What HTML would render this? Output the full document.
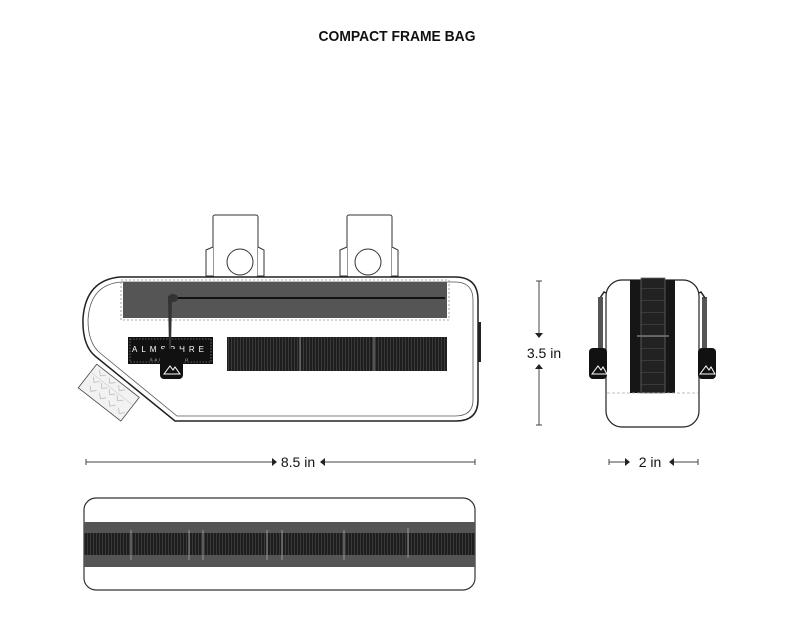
<!DOCTYPE html>
<html><head><meta charset="utf-8"><style>
html,body{margin:0;padding:0;background:#fff;}
svg{display:block;font-family:"Liberation Sans",sans-serif;}
</style></head><body>
<svg width="800" height="637" viewBox="0 0 800 637" xmlns="http://www.w3.org/2000/svg">
<defs>
<pattern id="web" width="3" height="10" patternUnits="userSpaceOnUse">
<rect width="3" height="10" fill="#1e1e1e"/><rect x="0" width="1" height="10" fill="#3a3a3a"/>
</pattern>
<pattern id="webh" width="10" height="12" patternUnits="userSpaceOnUse">
<rect width="10" height="12" fill="#222"/><rect y="0" width="10" height="1" fill="#3a3a3a"/>
</pattern>
</defs>
<text x="397" y="41" font-size="15" font-weight="bold" text-anchor="middle" textLength="157" lengthAdjust="spacingAndGlyphs" fill="#111">COMPACT FRAME BAG</text>

<g fill="#fff" stroke="#333" stroke-width="1">
<rect x="213" y="215" width="45" height="62" rx="2"/>
<path d="M213 247 L206 250 L206 276 L213 276 M258 247 L264 250 L264 276 L258 276"/>
<circle cx="240" cy="262" r="13"/>
<rect x="347" y="215" width="45" height="62" rx="2"/>
<path d="M347 247 L340 250 L340 276 L347 276 M392 247 L398 250 L398 276 L392 276"/>
<circle cx="368" cy="262" r="13"/>
</g>
<path d="M120 277 L455 277 Q478 277 478 300 L478 400 Q478 421 456 421 L175 421 L95 356 Q82 345 83 318 Q86 280 120 277 Z" fill="#fff" stroke="#222" stroke-width="1.5"/>
<path d="M122 282 L455 282 Q473 282 473 300 L473 400 Q473 416 455 416 L177 416 L100 353 Q88 343 88 320 Q90 284 122 282 Z" fill="none" stroke="#555" stroke-width="0.8"/>
<rect x="121" y="280" width="328" height="40" fill="none" stroke="#888" stroke-width="0.8" stroke-dasharray="2,2"/>
<rect x="123" y="282" width="324" height="36" fill="#555"/>
<line x1="170" y1="298" x2="445" y2="298" stroke="#111" stroke-width="2"/>
<rect x="478" y="322" width="3" height="40" fill="#222"/>
<rect x="128" y="337" width="85" height="27" fill="#111"/>
<rect x="130" y="339" width="81" height="23" fill="none" stroke="#aaa" stroke-width="0.6" stroke-dasharray="1.5,1.5"/>
<text x="170" y="352" font-size="8" fill="#fff" text-anchor="middle" letter-spacing="4">ALMSPHRE</text>
<text x="170" y="361" font-size="4" fill="#ccc" text-anchor="middle" letter-spacing="2">SAN DIEGO</text>
<path d="M168 296 L172 296 L171 350 L169 350 Z" fill="#333"/>
<ellipse cx="173" cy="298" rx="5" ry="4" fill="#333"/>
<rect x="160" y="349" width="23" height="30" rx="4" fill="#111"/>
<path d="M164 374 L170 366 L173 370 L175 367 L180 374 Z" fill="none" stroke="#fff" stroke-width="1"/>
<rect x="227" y="337" width="220" height="34" fill="url(#web)"/>
<line x1="300" y1="337" x2="300" y2="371" stroke="#888"/>
<line x1="374" y1="337" x2="374" y2="371" stroke="#888"/>
<g transform="rotate(38 108 392)">
<rect x="82" y="377" width="54" height="30" fill="#f2f2f2" stroke="#444" stroke-width="0.8"/>
<line x1="82" y1="387" x2="136" y2="387" stroke="#ccc" stroke-width="0.6"/>
<path d="M87 389 l4 4 l4-4 M97 389 l4 4 l4-4 M107 389 l4 4 l4-4 M117 389 l4 4 l4-4 M90 398 l4 4 l4-4 M102 398 l4 4 l4-4 M114 398 l4 4 l4-4 M126 398 l4 4 l4-4 M88 380 l4 4 l4-4 M100 380 l4 4 l4-4 M112 380 l4 4 l4-4" fill="none" stroke="#bbb" stroke-width="0.8"/>
</g>

<path d="M600 298 L604 292 L606 293" stroke="#222" stroke-width="1.5" fill="none"/>
<rect x="598" y="297" width="5" height="53" fill="#555"/>
<rect x="702" y="297" width="5" height="53" fill="#555"/>
<path d="M705 298 L701 292 L699 293" stroke="#222" stroke-width="1.5" fill="none"/>
<rect x="606" y="280" width="93" height="147" rx="16" fill="#fff" stroke="#222" stroke-width="1.2"/>
<rect x="630" y="280" width="45" height="113" fill="#161616"/>
<rect x="641" y="278" width="24" height="115" fill="url(#webh)" stroke="#666" stroke-width="0.8"/>
<line x1="637" y1="336" x2="669" y2="336" stroke="#777" stroke-width="1.5"/>
<line x1="607" y1="393" x2="698" y2="393" stroke="#aaa" stroke-width="0.8" stroke-dasharray="3,2"/>
<rect x="589" y="348" width="18" height="31" rx="4" fill="#111"/>
<path d="M592 374 L598 366 L601 370 L603 367 L607 374 Z" fill="none" stroke="#fff" stroke-width="1"/>
<rect x="698" y="348" width="18" height="31" rx="4" fill="#111"/>
<path d="M700 374 L706 366 L709 370 L711 367 L715 374 Z" fill="none" stroke="#fff" stroke-width="1"/>

<g stroke="#444" stroke-width="1" fill="#222">
<line x1="536" y1="281" x2="542" y2="281"/>
<line x1="539" y1="281" x2="539" y2="333"/>
<path d="M535 333 L543 333 L539 338 Z" stroke="none"/>
<line x1="539" y1="369" x2="539" y2="425"/>
<line x1="536" y1="425" x2="542" y2="425"/>
<path d="M535 369 L543 369 L539 364 Z" stroke="none"/>
<line x1="86" y1="459" x2="86" y2="465"/>
<line x1="86" y1="462" x2="272" y2="462"/>
<path d="M272 458 L272 466 L277 462 Z" stroke="none"/>
<line x1="325" y1="462" x2="475" y2="462"/>
<line x1="475" y1="459" x2="475" y2="465"/>
<path d="M325 458 L325 466 L320 462 Z" stroke="none"/>
<line x1="609" y1="459" x2="609" y2="465"/>
<line x1="609" y1="462" x2="625" y2="462"/>
<path d="M625 458 L625 466 L630 462 Z" stroke="none"/>
<line x1="674" y1="462" x2="698" y2="462"/>
<line x1="698" y1="459" x2="698" y2="465"/>
<path d="M674 458 L674 466 L669 462 Z" stroke="none"/>
</g>
<text x="544" y="358" font-size="14" fill="#111" text-anchor="middle">3.5 in</text>
<text x="298" y="467" font-size="14" fill="#111" text-anchor="middle">8.5 in</text>
<text x="650" y="467" font-size="14" fill="#111" text-anchor="middle">2 in</text>

<rect x="84" y="498" width="391" height="92" rx="12" fill="#fff" stroke="#333" stroke-width="1.2"/>
<rect x="84" y="522" width="391" height="45" fill="#555"/>
<rect x="84" y="533" width="391" height="22" fill="url(#web)"/>
<g stroke="#999" stroke-width="1">
<line x1="131" y1="530" x2="131" y2="560"/><line x1="189" y1="530" x2="189" y2="560"/>
<line x1="203" y1="530" x2="203" y2="560"/><line x1="267" y1="530" x2="267" y2="560"/>
<line x1="282" y1="530" x2="282" y2="560"/><line x1="344" y1="530" x2="344" y2="560"/>
<line x1="408" y1="528" x2="408" y2="558"/>
</g>
</svg>
</body></html>
